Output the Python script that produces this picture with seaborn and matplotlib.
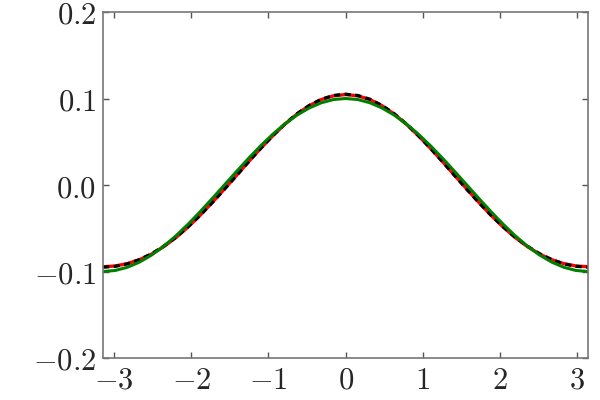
import numpy as np
import matplotlib
matplotlib.use('Agg')
import matplotlib.pyplot as plt
import seaborn as sns
import pandas as pd

# x от -pi до pi с шагом pi/20
x_vals = [-3.1416, -2.9845, -2.8274, -2.6704, -2.5133, -2.3562, -2.1991, -2.0420,
          -1.8850, -1.7279, -1.5708, -1.4137, -1.2566, -1.0996, -0.9425, -0.7854,
          -0.6283, -0.4712, -0.3142, -0.1571, 0.0,
          0.1571, 0.3142, 0.4712, 0.6283, 0.7854, 0.9425, 1.0996, 1.2566,
          1.4137, 1.5708, 1.7279, 1.8850, 2.0420, 2.1991, 2.3562, 2.5133,
          2.6704, 2.8274, 2.9845, 3.1416]

half_green = [-0.1000, -0.0988, -0.0951, -0.0891, -0.0809, -0.0707, -0.0588, -0.0454,
              -0.0309, -0.0156, 0.0000, 0.0156, 0.0309, 0.0454, 0.0588, 0.0707,
              0.0809, 0.0891, 0.0951, 0.0988, 0.1000]
half_black = [-0.0950, -0.0940, -0.0911, -0.0862, -0.0794, -0.0707, -0.0604, -0.0483,
              -0.0350, -0.0204, -0.0050, 0.0109, 0.0269, 0.0425, 0.0572, 0.0707,
              0.0825, 0.0920, 0.0992, 0.1035, 0.1050]
half_red = [-0.0945, -0.0936, -0.0909, -0.0863, -0.0798, -0.0712, -0.0608, -0.0486,
            -0.0350, -0.0202, -0.0047, 0.0111, 0.0270, 0.0424, 0.0570, 0.0704,
            0.0822, 0.0917, 0.0988, 0.1031, 0.1046]

green_vals = half_green + half_green[-2::-1]
black_vals = half_black + half_black[-2::-1]
red_vals = half_red + half_red[-2::-1]

sns.set_style('ticks')
plt.rcParams['font.family'] = ['DejaVu Serif']
plt.rcParams['mathtext.fontset'] = 'cm'

fig, ax = plt.subplots(figsize=(6, 4), dpi=100)
fig.subplots_adjust(left=0.172, right=0.98, bottom=0.105, top=0.97)

sns.lineplot(x=x_vals, y=red_vals, color='red', linewidth=2.4, ax=ax)
sns.lineplot(x=x_vals, y=black_vals, color='black', linewidth=2.3,
             linestyle=(0, (1.9, 1.4)), ax=ax)
sns.lineplot(x=x_vals, y=green_vals, color='green', linewidth=2.2, ax=ax)

ax.set_xlim(-np.pi, np.pi)
ax.set_ylim(-0.2, 0.2)
xticks = [-3, -2, -1, 0, 1, 2, 3]
yticks = [-0.2, -0.1, 0.0, 0.1, 0.2]
ax.set_xticks(xticks)
ax.set_xticklabels([f'${t}$' for t in xticks])
ax.set_yticks(yticks)
ax.set_yticklabels([f'${t:.1f}$' for t in yticks])
ax.tick_params(direction='in', top=True, right=True, length=4, width=1,
               color='#555555', labelsize=22, pad=5)
for sp in ax.spines.values():
    sp.set_color('#777777')
    sp.set_linewidth(1.2)

fig.savefig('out.png')
